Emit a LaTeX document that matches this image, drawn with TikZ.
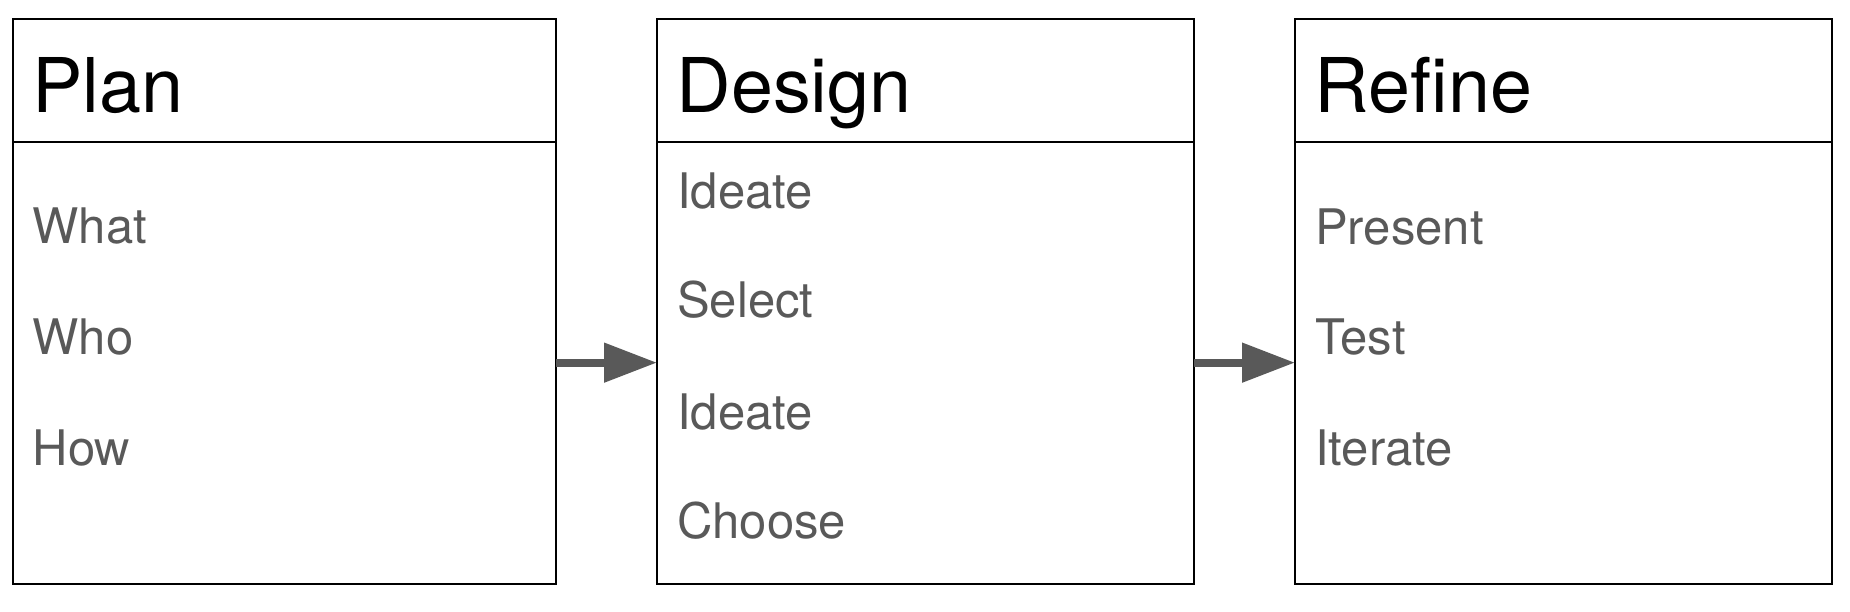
\documentclass[tikz,border=0pt]{standalone}
\usepackage{fontspec}
\setmainfont{TeX Gyre Heros}
\usetikzlibrary{arrows.meta}
\definecolor{itemgray}{HTML}{595959}
\tikzset{
  box/.style={draw=black, line width=2pt, rectangle, inner sep=0pt, outer sep=0pt, anchor=north west, minimum height=564.7pt},
  titletext/.style={anchor=base west, inner sep=0pt, text=black, font=\fontsize{75.5}{80}\selectfont},
  itemtext/.style={anchor=base west, inner sep=0pt, text=itemgray, font=\fontsize{49}{52}\selectfont},
  divider/.style={draw=black, line width=2pt},
  flow/.style={draw=itemgray, line width=8pt, -{Triangle[length=53pt,width=38pt]}, fill=itemgray}
}
\begin{document}
\begin{tikzpicture}[x=1pt,y=-1pt]
\useasboundingbox (0,0) rectangle (1850,612);
% boxes
\node[box, minimum width=543.3pt] (plan) at (12.7,19.3) {};
\node[box, minimum width=537pt] (design) at (657,19.3) {};
\node[box, minimum width=537pt] (refine) at (1295,19.3) {};
% dividers
\foreach \b in {plan,design,refine}{
  \draw[divider] (\b.north west |- 0,142) -- (\b.north east |- 0,142);
}
% titles
\node[titletext] (tplan) at (32,113) {Plan};
\node[titletext] (tdesign) at (676.5,113) {Design};
\node[titletext] (trefine) at (1314.5,113) {Refine};
% plan items
\node[itemtext] (p1) at (32.5,244) {What};
\node[itemtext] (p2) at (32.5,355) {Who};
\node[itemtext] (p3) at (32.5,465) {How};
% design items
\node[itemtext] (d1) at (677,209) {Ideate};
\node[itemtext] (d2) at (677,318) {Select};
\node[itemtext] (d3) at (677,429) {Ideate};
\node[itemtext] (d4) at (677,538) {Choose};
% refine items
\node[itemtext] (r1) at (1315,245) {Present};
\node[itemtext] (r2) at (1315,355) {Test};
\node[itemtext] (r3) at (1315,465) {Iterate};
% arrows
\draw[flow] ([yshift=-61pt]plan.east) -- ([yshift=-61pt]design.west);
\draw[flow] ([yshift=-61pt]design.east) -- ([yshift=-61pt]refine.west);
\end{tikzpicture}
\end{document}
